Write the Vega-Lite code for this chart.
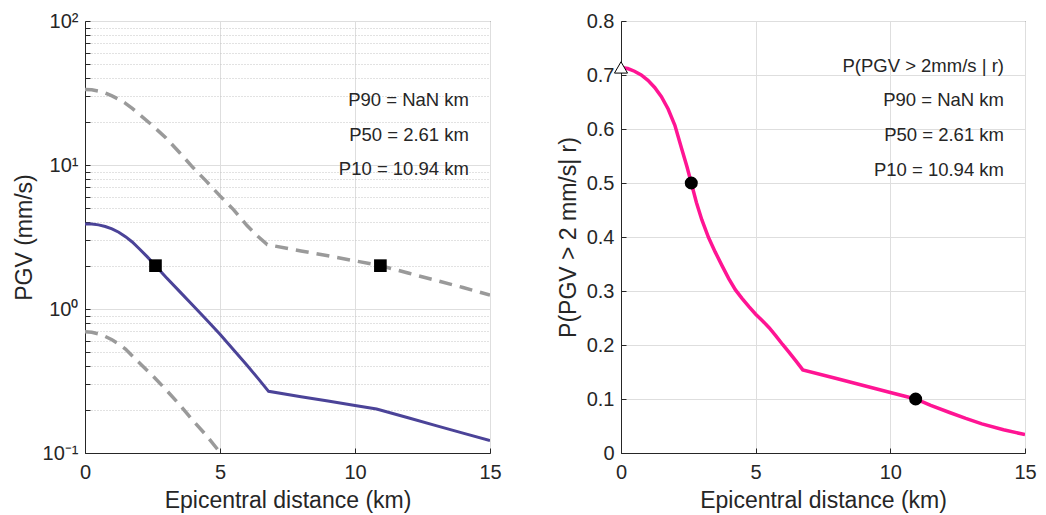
{
  "$schema": "https://vega.github.io/schema/vega-lite/v6.json",
  "padding": {"left": 12, "top": 10, "right": 0, "bottom": 0},
  "spacing": 54,
  "background": "white",
  "datasets": {
    "median": [
      {"r": 0, "pgv": 3.9}, {"r": 0.25, "pgv": 3.89}, {"r": 0.5, "pgv": 3.84}, {"r": 0.75, "pgv": 3.74},
      {"r": 1.0, "pgv": 3.6}, {"r": 1.25, "pgv": 3.41}, {"r": 1.5, "pgv": 3.18}, {"r": 1.75, "pgv": 2.92},
      {"r": 2.0, "pgv": 2.63}, {"r": 2.3, "pgv": 2.31}, {"r": 2.61, "pgv": 2.0}, {"r": 3.0, "pgv": 1.66},
      {"r": 3.5, "pgv": 1.325}, {"r": 4.0, "pgv": 1.057}, {"r": 4.5, "pgv": 0.843}, {"r": 5.0, "pgv": 0.667},
      {"r": 5.5, "pgv": 0.522}, {"r": 6.0, "pgv": 0.407}, {"r": 6.4, "pgv": 0.331}, {"r": 6.8, "pgv": 0.268},
      {"r": 8.0, "pgv": 0.246}, {"r": 9.0, "pgv": 0.23}, {"r": 10.0, "pgv": 0.214}, {"r": 10.8, "pgv": 0.202},
      {"r": 12.0, "pgv": 0.175}, {"r": 13.0, "pgv": 0.155}, {"r": 14.0, "pgv": 0.1375}, {"r": 15.0, "pgv": 0.122}
    ],
    "bounds": [
      {"series": "upper", "r": 0, "pgv": 33.5}, {"series": "upper", "r": 0.25, "pgv": 33.3}, {"series": "upper", "r": 0.5, "pgv": 32.6},
      {"series": "upper", "r": 0.75, "pgv": 31.6}, {"series": "upper", "r": 1.0, "pgv": 30.2}, {"series": "upper", "r": 1.25, "pgv": 28.6},
      {"series": "upper", "r": 1.5, "pgv": 26.8}, {"series": "upper", "r": 1.75, "pgv": 24.7}, {"series": "upper", "r": 2.0, "pgv": 22.6},
      {"series": "upper", "r": 2.5, "pgv": 18.8}, {"series": "upper", "r": 3.0, "pgv": 15.4}, {"series": "upper", "r": 3.5, "pgv": 12.2},
      {"series": "upper", "r": 4.0, "pgv": 9.6}, {"series": "upper", "r": 4.5, "pgv": 7.7}, {"series": "upper", "r": 5.0, "pgv": 6.1},
      {"series": "upper", "r": 5.5, "pgv": 4.9}, {"series": "upper", "r": 6.0, "pgv": 3.8}, {"series": "upper", "r": 6.4, "pgv": 3.2},
      {"series": "upper", "r": 6.75, "pgv": 2.8}, {"series": "upper", "r": 8.0, "pgv": 2.53}, {"series": "upper", "r": 9.0, "pgv": 2.34},
      {"series": "upper", "r": 10.0, "pgv": 2.16}, {"series": "upper", "r": 10.94, "pgv": 2.0}, {"series": "upper", "r": 12.0, "pgv": 1.77},
      {"series": "upper", "r": 13.0, "pgv": 1.58}, {"series": "upper", "r": 14.0, "pgv": 1.41}, {"series": "upper", "r": 15.0, "pgv": 1.25},
      {"series": "lower", "r": 0, "pgv": 0.695}, {"series": "lower", "r": 0.25, "pgv": 0.69}, {"series": "lower", "r": 0.5, "pgv": 0.672},
      {"series": "lower", "r": 0.75, "pgv": 0.645}, {"series": "lower", "r": 1.0, "pgv": 0.612}, {"series": "lower", "r": 1.25, "pgv": 0.572},
      {"series": "lower", "r": 1.5, "pgv": 0.527}, {"series": "lower", "r": 2.0, "pgv": 0.425}, {"series": "lower", "r": 2.5, "pgv": 0.345},
      {"series": "lower", "r": 3.0, "pgv": 0.275}, {"series": "lower", "r": 3.5, "pgv": 0.217}, {"series": "lower", "r": 4.0, "pgv": 0.168},
      {"series": "lower", "r": 4.5, "pgv": 0.132}, {"series": "lower", "r": 5.0, "pgv": 0.101}, {"series": "lower", "r": 5.5, "pgv": 0.08}
    ],
    "pgvMarkers": [
      {"r": 2.61, "pgv": 2.0}, {"r": 10.94, "pgv": 2.0}
    ],
    "pgvText": [
      {"r": 14.22, "pgv": 28.3, "label": "P90 = NaN km"},
      {"r": 14.22, "pgv": 16.2, "label": "P50 = 2.61 km"},
      {"r": 14.22, "pgv": 9.33, "label": "P10 = 10.94 km"}
    ],
    "prob": [
      {"r": 0, "p": 0.714}, {"r": 0.25, "p": 0.712}, {"r": 0.5, "p": 0.707}, {"r": 0.75, "p": 0.7},
      {"r": 1.0, "p": 0.69}, {"r": 1.25, "p": 0.677}, {"r": 1.5, "p": 0.66}, {"r": 1.75, "p": 0.637},
      {"r": 2.0, "p": 0.607}, {"r": 2.25, "p": 0.564}, {"r": 2.45, "p": 0.53}, {"r": 2.61, "p": 0.5},
      {"r": 2.8, "p": 0.464}, {"r": 3.0, "p": 0.432}, {"r": 3.25, "p": 0.399}, {"r": 3.5, "p": 0.372},
      {"r": 3.75, "p": 0.347}, {"r": 4.0, "p": 0.323}, {"r": 4.25, "p": 0.302}, {"r": 4.5, "p": 0.286},
      {"r": 4.75, "p": 0.271}, {"r": 5.0, "p": 0.257}, {"r": 5.25, "p": 0.245}, {"r": 5.5, "p": 0.232},
      {"r": 5.75, "p": 0.217}, {"r": 6.0, "p": 0.201}, {"r": 6.25, "p": 0.186}, {"r": 6.5, "p": 0.17},
      {"r": 6.75, "p": 0.154}, {"r": 8.0, "p": 0.138}, {"r": 9.0, "p": 0.125}, {"r": 10.0, "p": 0.112},
      {"r": 10.94, "p": 0.1}, {"r": 11.5, "p": 0.088}, {"r": 12.2, "p": 0.075}, {"r": 12.8, "p": 0.064},
      {"r": 13.4, "p": 0.054}, {"r": 14.2, "p": 0.043}, {"r": 15.0, "p": 0.034}
    ],
    "probMarkers": [
      {"r": 2.61, "p": 0.5}, {"r": 10.94, "p": 0.1}
    ],
    "probStart": [
      {"r": 0, "p": 0.714}
    ],
    "probText": [
      {"r": 14.22, "p": 0.716, "label": "P(PGV > 2mm/s | r)"},
      {"r": 14.22, "p": 0.653, "label": "P90 = NaN km"},
      {"r": 14.22, "p": 0.588, "label": "P50 = 2.61 km"},
      {"r": 14.22, "p": 0.525, "label": "P10 = 10.94 km"}
    ]
  },
  "hconcat": [
    {
      "width": 405,
      "height": 432,
      "encoding": {
        "x": {
          "field": "r", "type": "quantitative",
          "scale": {"domain": [0, 15], "nice": false, "zero": false},
          "axis": {"title": "Epicentral distance (km)", "values": [0, 5, 10, 15], "grid": true, "labelPadding": 14, "titlePadding": 7}
        },
        "y": {
          "field": "pgv", "type": "quantitative",
          "scale": {"type": "log", "domain": [0.1, 100], "nice": false},
          "axis": {
            "title": "PGV (mm/s)",
            "values": [0.1, 0.2, 0.3, 0.4, 0.5, 0.6, 0.7, 0.8, 0.9, 1, 2, 3, 4, 5, 6, 7, 8, 9, 10, 20, 30, 40, 50, 60, 70, 80, 90, 100],
            "labelExpr": "datum.value == 0.1 ? '10⁻¹' : datum.value == 1 ? '10⁰' : datum.value == 10 ? '10¹' : datum.value == 100 ? '10²' : ''",
            "grid": true,
            "gridDash": {"condition": {"test": "datum.value == 0.1 || datum.value == 1 || datum.value == 10 || datum.value == 100", "value": []}, "value": [1, 2]},
            "gridColor": {"condition": {"test": "datum.value == 0.1 || datum.value == 1 || datum.value == 10 || datum.value == 100", "value": "#dedede"}, "value": "#c4c4c4"},
            "labelPadding": 12,
            "titlePadding": 6
          }
        }
      },
      "layer": [
        {
          "data": {"name": "bounds"},
          "mark": {"type": "line", "color": "#9a9a9a", "strokeWidth": 3.5, "strokeDash": [13, 8], "clip": true},
          "encoding": {"detail": {"field": "series"}}
        },
        {
          "data": {"name": "median"},
          "mark": {"type": "line", "color": "#4B4398", "strokeWidth": 3, "clip": true}
        },
        {
          "data": {"name": "pgvMarkers"},
          "mark": {"type": "square", "color": "#000000", "filled": true, "opacity": 1, "size": 160}
        },
        {
          "data": {"name": "pgvText"},
          "mark": {"type": "text", "align": "right", "baseline": "middle", "fontSize": 18.5, "font": "Liberation Sans", "color": "#262626"},
          "encoding": {"text": {"field": "label"}}
        }
      ]
    },
    {
      "width": 404,
      "height": 432,
      "encoding": {
        "x": {
          "field": "r", "type": "quantitative",
          "scale": {"domain": [0, 15], "nice": false, "zero": false},
          "axis": {"title": "Epicentral distance (km)", "values": [0, 5, 10, 15], "grid": true, "labelPadding": 14, "titlePadding": 7}
        },
        "y": {
          "field": "p", "type": "quantitative",
          "scale": {"domain": [0, 0.8], "nice": false},
          "axis": {
            "title": "P(PGV > 2 mm/s| r)",
            "values": [0, 0.1, 0.2, 0.3, 0.4, 0.5, 0.6, 0.7, 0.8],
            "format": "~g",
            "grid": true,
            "labelPadding": 12,
            "titlePadding": 6
          }
        }
      },
      "layer": [
        {
          "data": {"name": "prob"},
          "mark": {"type": "line", "color": "#FF1493", "strokeWidth": 3.5, "clip": true}
        },
        {
          "data": {"name": "probMarkers"},
          "mark": {"type": "circle", "color": "#000000", "opacity": 1, "size": 170}
        },
        {
          "data": {"name": "probStart"},
          "mark": {"type": "point", "shape": "triangle-up", "filled": true, "fill": "#ffffff", "stroke": "#000000", "strokeWidth": 1, "opacity": 1, "size": 170}
        },
        {
          "data": {"name": "probText"},
          "mark": {"type": "text", "align": "right", "baseline": "middle", "fontSize": 18.5, "font": "Liberation Sans", "color": "#262626"},
          "encoding": {"text": {"field": "label"}}
        }
      ]
    }
  ],
  "config": {
    "view": {"stroke": "#262626", "strokeWidth": 1},
    "font": "Liberation Sans",
    "axis": {
      "labelFont": "Liberation Sans", "labelFontSize": 20, "labelColor": "#262626",
      "titleFont": "Liberation Sans", "titleFontSize": 23, "titleFontWeight": "normal", "titleColor": "#262626",
      "domainColor": "#262626", "tickColor": "#262626", "gridColor": "#dedede",
      "labelFlush": false, "labelOverlap": false, "tickSize": -5
    }
  }
}
